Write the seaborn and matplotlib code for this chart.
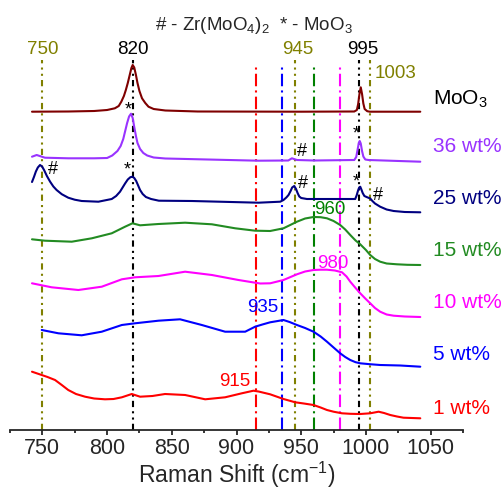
import matplotlib
matplotlib.use("Agg")
import matplotlib.pyplot as plt
import seaborn as sns
import pandas as pd

# Raman shift (cm-1) and stacked intensity (arb. units, offset already included)
moo3_x = [742, 770, 790, 800, 806, 809, 811, 813, 814.5, 816, 817.5, 818.8, 819.8, 821, 822.3, 823.5,
          825, 827, 829.5, 832, 836, 845, 870, 950, 991, 993, 994, 995, 996, 997, 998, 999, 1001,
          1003, 1042]
moo3_y = [318.3, 318.5, 319, 320, 321.7, 324, 328.3, 334, 340, 347, 355, 362, 365, 362.5, 355, 347,
          339, 331.7, 327, 323.3, 321, 319.5, 318.5, 318.3, 318.5, 320, 326, 336, 342.7, 336, 326.5,
          321, 318.8, 318.3, 318.3]

wt36_x = [742, 745.6, 752, 770, 790, 800, 804, 808, 810.5, 812.5, 814, 815.5, 817, 818.5, 819.8, 821,
          822.3, 823.5, 825.5, 828, 831, 836, 845, 917, 940, 942.8, 946.7, 960, 991, 992.5, 993.5,
          994.5, 995.2, 996, 997, 998, 999.5, 1002, 1042]
wt36_y = [273.3, 275, 272.3, 271.7, 271.7, 272, 274.5, 279, 284, 291, 299, 307, 313.5, 316.3, 312, 303,
          294, 287, 281, 277, 274.5, 272.5, 271.5, 269.3, 269.5, 271.7, 270, 269.5, 270, 273, 280,
          287, 289, 286.5, 279, 273.5, 270.5, 270, 268.3]

wt25_x = [742, 743.5, 745, 746.5, 748.2, 749.8, 751.5, 753.5, 756, 758.5, 761, 765, 770, 775, 780.4,
          793.3, 803.6, 807, 810, 812, 814, 816, 818, 819.6, 821, 822.5, 824, 825.5, 827.5, 830, 834,
          840, 865.5, 917, 933.8, 936.3, 938.5, 940.2, 941.8, 943, 944.6, 946, 947.2, 948.5, 950,
          954.4, 991.7, 992.8, 993.8, 994.8, 995.6, 996.5, 997.5, 998.8, 1000.5, 1003.3, 1005,
          1007, 1011, 1016, 1021.4, 1030, 1042]
wt25_y = [248, 253, 258.5, 262.5, 265, 263.5, 259.5, 254, 248.3, 243.5, 240, 235.8, 232.3, 230.3, 229,
          228.3, 231, 234, 238.3, 242.5, 246.7, 250.5, 252.8, 253.3, 252, 249, 244.5, 240, 236, 233, 231,
          229.3, 229, 227.3, 228.3, 230, 232.5, 235, 239, 242.5, 244, 241, 237, 233.5, 232,
          231, 231, 234.5, 239, 242.5, 243.3, 240.5, 237, 234, 233, 231.5, 229,
          226.5, 223.3, 220.5, 219, 218, 217.7]

wt15_x = [742, 752, 772.7, 788.2, 803.6, 813.9, 819.6, 825.5, 839.7, 860.3, 881, 899, 914.4, 926, 936.3,
          941.5, 946.7, 953, 959.5, 965, 969.9, 975, 980.1, 984, 987.9, 992, 995.6, 1000, 1003.3, 1007,
          1011, 1016, 1024, 1032, 1042]
wt15_y = [190.7, 189.3, 188.3, 191.7, 196.7, 203.3, 206.7, 204.7, 206, 207.3, 205.7, 201.7, 199.3, 199, 201.7,
          205, 208.3, 211.5, 213, 212.8, 211.7, 209, 205, 200.5, 195, 189.5, 185.7, 180, 175, 171,
          168.3, 166.5, 165.7, 165.2, 165]

wt10_x = [742, 757.2, 777.8, 795.9, 811.4, 821.6, 839.7, 860.3, 881, 901.5, 914.4, 918.3, 926, 936.3,
          946.7, 953, 959.5, 965, 969.9, 976, 981.5, 985, 987.9, 992, 995.6, 999.5, 1003.3, 1007,
          1011, 1016, 1021.4, 1030, 1042]
wt10_y = [146.7, 142.7, 140, 143.3, 150.7, 152.7, 154, 158.3, 155, 150, 147.3, 146.5, 146.7, 150,
          155.7, 158.5, 160, 160.3, 160.3, 159.5, 157.7, 153.5, 148.3, 142, 136.7, 131.5, 126.7, 122,
          118.3, 115.5, 114.3, 113.5, 113]

wt5_x = [749.5, 762.4, 780.4, 795.9, 811.4, 821.6, 839.7, 856.4, 873.2, 891.2, 906.7, 914.4, 920, 926,
         931, 936.3, 941, 946.7, 953, 959.5, 965, 969.9, 975, 980.1, 984, 987.9, 992, 995.6, 1003,
         1011, 1026.5, 1042]
wt5_y = [100, 96.7, 94.7, 98.3, 105, 106.7, 109.3, 110.7, 105, 98.3, 98.3, 103.3, 105.5, 107.7,
         108.8, 110, 108, 105, 102, 98.3, 93.5, 88.3, 82.5, 76.7, 73, 70, 67.8, 66.7, 65.8,
         65, 64.5, 63.3]

wt1_x = [742, 749.5, 754, 759.8, 765, 770, 776, 783, 790, 798.4, 805, 811.4, 819.1, 825.5, 835, 844.8,
         860.3, 875.8, 891.2, 904.1, 913.1, 917, 926, 936.3, 945.4, 952, 959.5, 965, 969.9, 975,
         981.5, 988, 995.6, 1003.3, 1009.8, 1014, 1018.8, 1024, 1029, 1042]
wt1_y = [58.3, 55, 53, 50, 45, 40, 36, 33.3, 31.5, 30.7, 31, 32.7, 36, 33.3, 34, 36,
         35, 30.7, 32.7, 36.7, 39.3, 38.5, 35.7, 31, 27.7, 26.5, 25, 22.5, 20, 18.3,
         16.7, 16.2, 16, 16.7, 18.3, 17, 15, 13.5, 12.3, 11.7]

series_names = ["MoO$_3$", "36 wt%", "25 wt%", "15 wt%", "10 wt%", "5 wt%", "1 wt%"]
series_x = [moo3_x, wt36_x, wt25_x, wt15_x, wt10_x, wt5_x, wt1_x]
series_y = [moo3_y, wt36_y, wt25_y, wt15_y, wt10_y, wt5_y, wt1_y]
series_colors = ["#7f0000", "#9933ff", "#000080", "#228b22", "#ff00ff", "#0000ff", "#ff0000"]
label_y = [331, 283, 232, 180, 128, 76, 22]

# reference band positions
band_pos = [750, 820, 915, 935, 945, 960, 980, 995, 1003]
band_colors = ["#808000", "black", "red", "blue", "#808000", "green", "magenta", "black", "#808000"]
band_top = [370, 370, 365, 365, 370, 365, 365, 370, 370]
band_text = ["750", "820", "915", "935", "945", "960", "980", "995", "1003"]
band_text_x = [750, 820, 899, 920.6, 947.7, 972.4, 974.7, 997.2, 1022.7]
band_text_y = [380, 380, 49, 122, 380, 220, 167, 380, 356]

# phase markers: '#' Zr(MoO4)2, '*' MoO3
mark_sym = ["*", "#", "*", "#", "*", "#", "*", "#"]
mark_x = [816.5, 950.8, 992.5, 758.2, 815.5, 951.5, 992.5, 1009.5]
mark_y = [320, 278, 296, 260, 260, 247, 248, 235]

sns.set_style("ticks")
plt.rcParams['font.family'] = ['Liberation Sans', 'DejaVu Sans']
plt.rcParams['mathtext.fontset'] = 'custom'
plt.rcParams['mathtext.rm'] = 'Liberation Sans'
plt.rcParams['mathtext.it'] = 'Liberation Sans:italic'

fig = plt.figure(figsize=(5.03, 4.92), dpi=100)
ax = fig.add_axes([10 / 503, 62 / 492, 453 / 503, 390 / 492])

for pos, col, top in zip(band_pos, band_colors, band_top):
    if col in ("#808000", "black"):
        ls = (0, (3, 2, 1, 2, 1, 2))
    else:
        ls = (0, (6, 2, 1, 2))
    ax.plot([pos, pos], [0, top], color=col, lw=1.5, ls=ls, zorder=1)

for xs, ys, col in zip(series_x, series_y, series_colors):
    df = pd.DataFrame({"shift": xs, "intensity": ys})
    sns.lineplot(data=df, x="shift", y="intensity", color=col, lw=1.5, ax=ax,
                 estimator=None, sort=False, zorder=3)

for name, col, yy in zip(series_names, series_colors, label_y):
    tcol = "black" if name.startswith("MoO") else col
    ax.text(1052, yy, name, color=tcol, fontsize=15, va="center", ha="left", clip_on=False)

for t, tx, ty, col in zip(band_text, band_text_x, band_text_y, band_colors):
    ax.text(tx, ty, t, color=col, fontsize=13.5, ha="center", va="center", clip_on=False)

for s, mx, my in zip(mark_sym, mark_x, mark_y):
    ax.text(mx, my, s, color="black", fontsize=13, ha="center", va="center", clip_on=False)

fig.text(254 / 503, 1 - 25 / 492, r"# - Zr(MoO$_4$)$_2$  * - MoO$_3$", fontsize=13.5,
         ha="center", va="center")

ax.set_xlim(725, 1075)
ax.set_ylim(0, 390)
ax.set_xticks([750, 800, 850, 900, 950, 1000, 1050])
ax.set_xticks([725, 775, 825, 875, 925, 975, 1025, 1075], minor=True)
ax.set_yticks([])
ax.set_xlabel("Raman Shift (cm$^{-1}$)", fontsize=16.5, labelpad=0)
ax.set_ylabel("")
ax.tick_params(axis="x", which="major", direction="out", length=3.6, width=1.3, labelsize=15.5, pad=2.5)
ax.tick_params(axis="x", which="minor", direction="out", length=2.2, width=1.3)
sns.despine(ax=ax, left=True, top=True, right=True)
ax.spines["bottom"].set_linewidth(1.3)
ax.patch.set_alpha(0)

fig.savefig("out.png", dpi=100)
